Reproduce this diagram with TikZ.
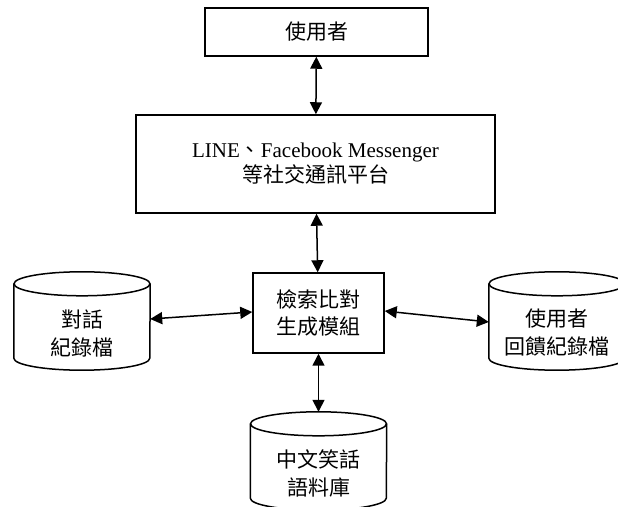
\documentclass[tikz,border=0pt]{standalone}
\usepackage{fontspec}
\setmainfont{Liberation Serif}
\newfontfamily\cjk{Noto Sans CJK TC}
\usetikzlibrary{arrows.meta}
\newcommand{\drawcyl}[1]{%
  \draw[outl] ([yshift=12pt]#1.north) ellipse [x radius=68pt, y radius=12pt];
  \draw[outl] ([yshift=12pt]#1.north west) -- ([yshift=12pt]#1.south west)
    arc[start angle=180, end angle=360, x radius=68pt, y radius=12pt]
    -- ([yshift=12pt]#1.north east);}
\tikzset{
  outl/.style={line width=1.5pt},
  boxnode/.style={draw, line width=1.5pt, inner sep=0pt, align=center, font=\fontsize{21}{27}\selectfont},
  dbnode/.style={inner sep=0pt, minimum width=136pt, minimum height=74pt, align=center, font=\fontsize{21}{28}\selectfont},
  link/.style={line width=1.5pt, {Triangle[length=12pt,width=12pt]}-{Triangle[length=12pt,width=12pt]}}
}
\begin{document}
\begin{tikzpicture}[x=1pt,y=1pt]
\useasboundingbox (0,0) rectangle (618,506);
\node[boxnode, minimum width=223pt, minimum height=48pt] (user) at (316.5,474) {\cjk 使用者};
\node[boxnode, minimum width=359pt, minimum height=98pt, font=\fontsize{21}{25}\selectfont] (plat) at (315.5,342)
  {LINE{\cjk 、}Facebook Messenger\\{\cjk 等社交通訊平台}};
\node[boxnode, minimum width=131pt, minimum height=80pt] (mod) at (318.5,193) {\cjk 檢索比對\\\cjk 生成模組};
\node[dbnode] (dlg) at (82,173) {\cjk 對話\\\cjk 紀錄檔};
\node[dbnode] (fb) at (557,173) {\cjk 使用者\\\cjk 回饋紀錄檔};
\node[dbnode] (jok) at (318.5,33) {\cjk 中文笑話\\\cjk 語料庫};
\drawcyl{dlg}
\drawcyl{fb}
\drawcyl{jok}
\draw[link] (user) -- (plat);
\draw[link] (plat) -- (mod);
\draw[link] ([yshift=14pt]dlg.east) -- ([yshift=1pt]mod.west);
\draw[link] ([yshift=2pt]mod.east) -- ([yshift=11pt]fb.west);
\draw[link] (mod.south) -- ([yshift=24pt]jok.north);
\end{tikzpicture}
\end{document}
